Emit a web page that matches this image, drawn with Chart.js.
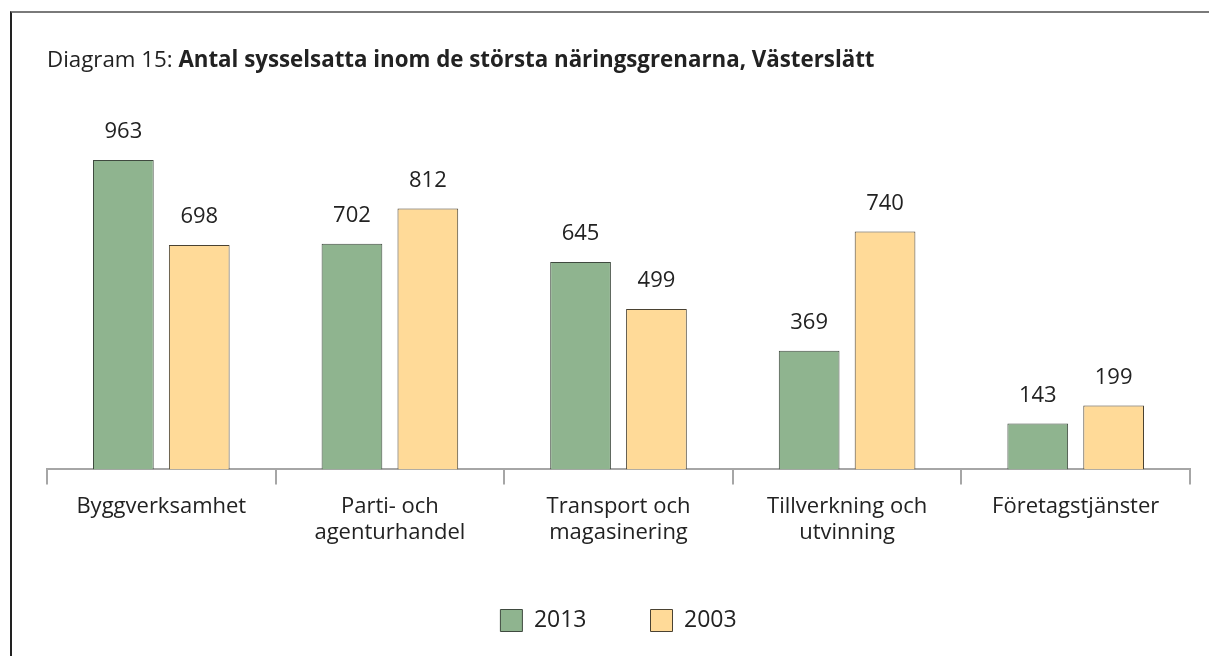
<!DOCTYPE html>
<html>
<head>
<meta charset="utf-8">
<script src="https://cdn.jsdelivr.net/npm/chart.js@4.4.1/dist/chart.umd.min.js"></script>
<style>
  html, body { margin: 0; padding: 0; background: #fff; }
  #wrap { position: relative; width: 1209px; height: 656px; }
  #frame {
    position: absolute; left: 10px; top: 11px; right: 0; bottom: 0;
    border-top: 2px solid #7a7a7a; border-left: 2px solid #222;
    pointer-events: none;
  }
</style>
</head>
<body>
<div id="wrap">
  <canvas id="chart"></canvas>
  <div id="frame"></div>
</div>
<script>
const categories = [
  "Byggverksamhet",
  ["Parti- och", "agenturhandel"],
  ["Transport och", "magasinering"],
  ["Tillverkning och", "utvinning"],
  "Företagstjänster",
];
const series2013 = [963, 702, 645, 369, 143];
const series2003 = [698, 812, 499, 740, 199];
const seriesNames = ["2013", "2003"];

const FONT = "'Open Sans', sans-serif";
const TEXT = "#222";
const LEGEND_H = 111;

// rubrik med normal + fet del
const titlePlugin = {
  id: "titleText",
  afterDraw(chart) {
    const c = chart.ctx;
    c.save();
    c.fillStyle = TEXT;
    c.textBaseline = "middle";
    c.font = "22.3px " + FONT;
    const first = "Diagram 15: ";
    c.fillText(first, 47, 61);
    const w = c.measureText(first).width;
    c.font = "bold 22.3px " + FONT;
    c.fillText("Antal sysselsatta inom de största näringsgrenarna, Västerslätt", 47 + w, 61);
    c.restore();
  },
};

// värden ovanför staplarna
const valueLabels = {
  id: "valueLabels",
  afterDatasetsDraw(chart) {
    const c = chart.ctx;
    c.save();
    c.fillStyle = TEXT;
    c.font = "22px " + FONT;
    c.textAlign = "center";
    c.textBaseline = "middle";
    chart.data.datasets.forEach((ds, i) => {
      chart.getDatasetMeta(i).data.forEach((bar, j) => {
        c.fillText(ds.data[j], bar.x, bar.y - 28);
      });
    });
    c.restore();
  },
};

// legenden har stort mellanrum mellan posterna men ska inte ta så mycket höjd
const legendFit = {
  id: "legendFit",
  beforeLayout(chart) {
    const lg = chart.legend;
    if (lg && !lg._fitPatched) {
      const fit = lg.fit;
      lg.fit = function () {
        fit.call(this);
        this.height = LEGEND_H;
      };
      lg._fitPatched = true;
    }
  },
};

new Chart(document.getElementById("chart"), {
  type: "bar",
  data: {
    labels: categories,
    datasets: [
      {
        label: seriesNames[0],
        data: series2013,
        backgroundColor: "#8fb48f",
        borderColor: "#3f4a3f",
        borderWidth: 1,
      },
      {
        label: seriesNames[1],
        data: series2003,
        backgroundColor: "#ffda98",
        borderColor: "#4a4232",
        borderWidth: 1,
      },
    ],
  },
  options: {
    responsive: true,
    maintainAspectRatio: false,
    animation: false,
    categoryPercentage: 0.664,
    barPercentage: 0.8,
    layout: { padding: { left: 47, right: 19, top: 148, bottom: 0 } },
    plugins: {
      legend: {
        position: "bottom",
        labels: {
          color: TEXT,
          font: { family: FONT, size: 23 },
          boxWidth: 22,
          boxHeight: 22,
          padding: 64,
        },
      },
      tooltip: { enabled: false },
    },
    scales: {
      x: {
        afterFit(scale) {
          scale.height -= 10;
        },
        grid: {
          drawOnChartArea: false,
          drawTicks: true,
          tickLength: 15,
          color: "#a6a6a6",
          lineWidth: 2,
        },
        border: { color: "#a6a6a6", width: 2 },
        ticks: {
          color: TEXT,
          font: { family: FONT, size: 22, lineHeight: 1.15 },
          padding: 10,
          maxRotation: 0,
          autoSkip: false,
        },
      },
      y: {
        display: false,
        min: 0,
        max: 1000,
      },
    },
  },
  plugins: [titlePlugin, valueLabels, legendFit],
});
</script>
</body>
</html>
